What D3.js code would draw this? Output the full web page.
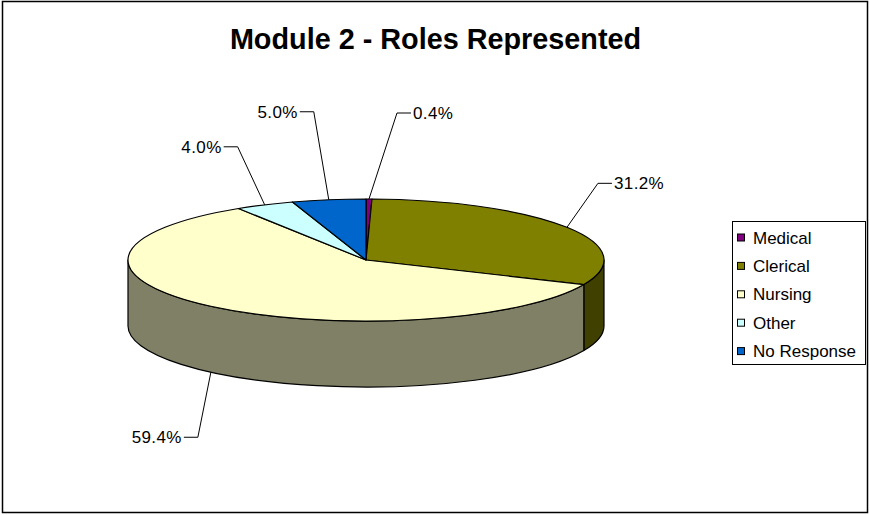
<!DOCTYPE html>
<html>
<head>
<meta charset="utf-8">
<script src="https://cdn.jsdelivr.net/npm/d3@7"></script>
<style>
  body { margin: 0; background: #fff; }
  text { font-family: Arial, "Liberation Sans", sans-serif; }
</style>
</head>
<body>
<div id="chart"></div>
<script>
const categories = ['Medical', 'Clerical', 'Nursing', 'Other', 'No Response']
const shares = [0.4, 31.2, 59.4, 4.0, 5.0]
const colors = ['#800080', '#808000', '#FFFFCC', '#CCFFFF', '#0066CC']

// hand placed leader elbows, relative to the slice anchor (as Excel left them)
const labelDx = [28, 31, -13, -27, -15]
const labelDy = [-86, -44, 65, -58, -88]

const width = 870
const height = 515

const cx = 366
const cy = 260
const rx = 238
const ry = 61
const depth = 66

const svg = d3.select('#chart').append('svg')
    .attr('width', width)
    .attr('height', height)

svg.append('rect')
    .attr('x', 2.5)
    .attr('y', 1.5)
    .attr('width', 865)
    .attr('height', 511)
    .attr('fill', '#fff')
    .attr('stroke', '#000')
    .attr('stroke-width', 1.5)

svg.append('text')
    .attr('x', 435.5)
    .attr('y', 49)
    .attr('text-anchor', 'middle')
    .style('font-size', '28.8px')
    .style('font-weight', 'bold')
    .text('Module 2 - Roles Represented')

const pie = d3.pie().sort(null).startAngle(0).endAngle(2 * Math.PI)
const arcs = pie(shares)

// point on the tilted ellipse; angle 0 at 12 o'clock, going clockwise
const pt = (a, dy = 0) => [cx + rx * Math.sin(a), cy - ry * Math.cos(a) + dy]

function topPath (d) {
  const p0 = pt(d.startAngle)
  const p1 = pt(d.endAngle)
  const large = d.endAngle - d.startAngle > Math.PI ? 1 : 0
  return 'M' + cx + ',' + cy + 'L' + p0 + 'A' + rx + ',' + ry + ' 0 ' + large + ' 1 ' + p1 + 'Z'
}

function wallPath (d) {
  const s = Math.max(d.startAngle, Math.PI / 2)
  const e = Math.min(d.endAngle, 3 * Math.PI / 2)
  if (e <= s) return null
  const a = pt(s)
  const b = pt(e)
  const b2 = pt(e, depth)
  const a2 = pt(s, depth)
  return 'M' + a + 'A' + rx + ',' + ry + ' 0 0 1 ' + b +
    'L' + b2 + 'A' + rx + ',' + ry + ' 0 0 0 ' + a2 + 'Z'
}

const shade = c => {
  const r = d3.rgb(c)
  return d3.rgb(r.r * 0.5, r.g * 0.5, r.b * 0.5)
}

const pieG = svg.append('g')

pieG.selectAll('.wall')
    .data(arcs.filter(d => wallPath(d)))
  .enter().append('path')
    .attr('class', 'wall')
    .attr('d', wallPath)
    .attr('fill', d => shade(colors[d.index]))
    .attr('stroke', '#000')
    .attr('stroke-width', 1.2)
    .attr('stroke-linejoin', 'round')

pieG.selectAll('.slice')
    .data(arcs)
  .enter().append('path')
    .attr('class', 'slice')
    .attr('d', topPath)
    .attr('fill', d => colors[d.index])
    .attr('stroke', '#000')
    .attr('stroke-width', 1.2)
    .attr('stroke-linejoin', 'round')

// data labels with leader lines
const fmt = d3.format('.1f')
const labels = svg.append('g')

arcs.forEach((d, i) => {
  const mid = (d.startAngle + d.endAngle) / 2
  const front = Math.cos(mid) < 0
  const anchor = pt(mid, front ? depth : 0)
  const elbow = [anchor[0] + labelDx[i], anchor[1] + labelDy[i]]
  const dir = labelDx[i] >= 0 ? 1 : -1
  const tick = [elbow[0] + dir * 14, elbow[1]]

  labels.append('polyline')
      .attr('points', [anchor, elbow, tick].map(p => p.join(',')).join(' '))
      .attr('fill', 'none')
      .attr('stroke', '#000')
      .attr('stroke-width', 1)

  labels.append('text')
      .attr('x', tick[0] + dir * 2)
      .attr('y', tick[1])
      .attr('dy', '0.36em')
      .attr('text-anchor', dir > 0 ? 'start' : 'end')
      .style('font-size', '17px')
      .style('letter-spacing', '0.4px')
      .text(fmt(shares[i]) + '%')
})

// legend
const legend = svg.append('g')
    .attr('transform', 'translate(732,221)')

legend.append('rect')
    .attr('x', 0.5)
    .attr('y', 0.5)
    .attr('width', 133)
    .attr('height', 143)
    .attr('fill', '#fff')
    .attr('stroke', '#000')

const item = legend.selectAll('.item')
    .data(categories)
  .enter().append('g')
    .attr('class', 'item')
    .attr('transform', (d, i) => 'translate(0,' + (16.5 + i * 28.4) + ')')

item.append('rect')
    .attr('x', 5.5)
    .attr('y', -3.5)
    .attr('width', 7)
    .attr('height', 7)
    .attr('fill', (d, i) => colors[i])
    .attr('stroke', '#000')

item.append('text')
    .attr('x', 21)
    .attr('dy', '0.36em')
    .style('font-size', '17px')
    .text(d => d)
</script>
</body>
</html>
